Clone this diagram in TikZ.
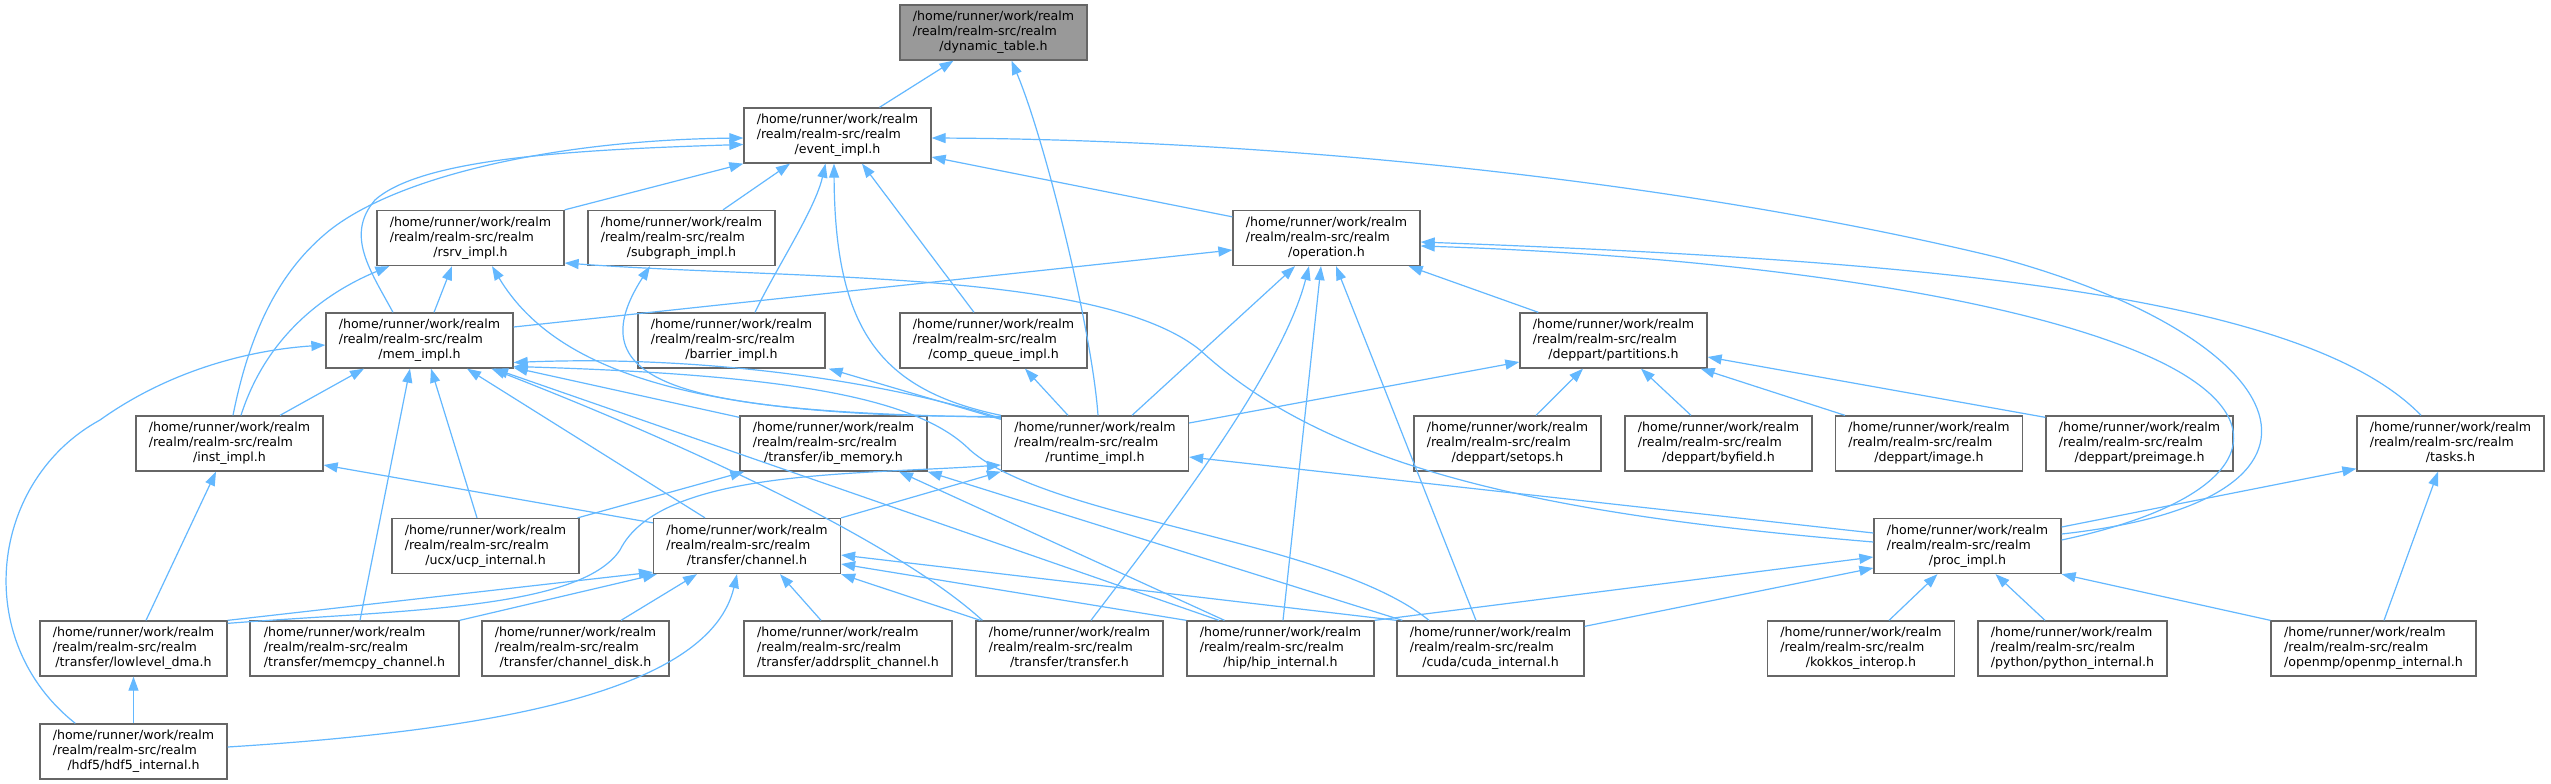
\documentclass[tikz,border=0pt]{standalone}
\usepackage{fontspec}
\setmainfont{DejaVu Sans}
\usetikzlibrary{calc,arrows.meta}
\definecolor{edgeblue}{HTML}{63B8FF}
\definecolor{boxgray}{HTML}{666666}
\definecolor{rootgray}{HTML}{999999}
\newcommand{\lbl}[1]{\begin{tabular}{@{}l@{}}/home/runner/work/realm\\/realm/realm-src/realm\\\multicolumn{1}{@{}c@{}}{#1}\end{tabular}}
\tikzset{
  filebox/.style={draw=boxgray, line width=1.3pt, fill=white, minimum width=187pt, minimum height=55pt,
    inner xsep=10pt, inner ysep=5pt, font=\fontsize{12.6}{15}\selectfont},
  rootbox/.style={filebox, fill=rootgray},
  edge/.style={draw=edgeblue, line width=1.2pt, -{Triangle[length=14pt,width=10pt]}}
}
\begin{document}
\begin{tikzpicture}[x=1pt,y=-1pt]
\fill[white] (0,0) rectangle (2551,784);
\useasboundingbox (0,0) rectangle (2551,784);
% row 0
\node[rootbox] (dyn) at (993.5,32.5) {\lbl{/dynamic\_table.h}};
% row 1
\node[filebox] (event) at (837.5,135.5) {\lbl{/event\_impl.h}};
% row 2
\node[filebox] (rsrv) at (470.5,238) {\lbl{/rsrv\_impl.h}};
\node[filebox] (subgraph) at (681.5,238) {\lbl{/subgraph\_impl.h}};
\node[filebox] (operation) at (1326.5,238) {\lbl{/operation.h}};
% row 3
\node[filebox] (mem) at (419.5,340.5) {\lbl{/mem\_impl.h}};
\node[filebox] (barrier) at (731.5,340.5) {\lbl{/barrier\_impl.h}};
\node[filebox] (comp) at (993.5,340.5) {\lbl{/comp\_queue\_impl.h}};
\node[filebox] (partitions) at (1613.5,340.5) {\lbl{/deppart/partitions.h}};
% row 4
\node[filebox] (inst) at (229.5,443.5) {\lbl{/inst\_impl.h}};
\node[filebox] (ib) at (833.5,443.5) {\lbl{/transfer/ib\_memory.h}};
\node[filebox] (runtime) at (1095,443.5) {\lbl{/runtime\_impl.h}};
\node[filebox] (setops) at (1507.5,443.5) {\lbl{/deppart/setops.h}};
\node[filebox] (byfield) at (1718.5,443.5) {\lbl{/deppart/byfield.h}};
\node[filebox] (image) at (1929,443.5) {\lbl{/deppart/image.h}};
\node[filebox] (preimage) at (2139.5,443.5) {\lbl{/deppart/preimage.h}};
\node[filebox] (tasks) at (2450.5,443.5) {\lbl{/tasks.h}};
% row 5
\node[filebox] (ucp) at (485.5,546) {\lbl{/ucx/ucp\_internal.h}};
\node[filebox] (channel) at (747,546) {\lbl{/transfer/channel.h}};
\node[filebox] (proc) at (1967.5,546) {\lbl{/proc\_impl.h}};
% row 6
\node[filebox] (lowlevel) at (133.5,648.5) {\lbl{/transfer/lowlevel\_dma.h}};
\node[filebox, minimum width=209pt] (memcpy) at (354.5,648.5) {\lbl{/transfer/memcpy\_channel.h}};
\node[filebox] (disk) at (575.5,648.5) {\lbl{/transfer/channel\_disk.h}};
\node[filebox, minimum width=208pt] (addrsplit) at (848,648.5) {\lbl{/transfer/addrsplit\_channel.h}};
\node[filebox] (transfer) at (1069.5,648.5) {\lbl{/transfer/transfer.h}};
\node[filebox] (hip) at (1280.5,648.5) {\lbl{/hip/hip\_internal.h}};
\node[filebox] (cuda) at (1490.5,648.5) {\lbl{/cuda/cuda\_internal.h}};
\node[filebox] (kokkos) at (1861,648.5) {\lbl{/kokkos\_interop.h}};
\node[filebox, minimum width=189pt] (python) at (2072.5,648.5) {\lbl{/python/python\_internal.h}};
\node[filebox, minimum width=205pt] (openmp) at (2373.5,648.5) {\lbl{/openmp/openmp\_internal.h}};
% row 7
\node[filebox] (hdf5) at (133.5,751.5) {\lbl{/hdf5/hdf5\_internal.h}};

% ---- edges: includer -> included (head at included file)
\draw[edge] ($(event.north)+(42,0)$) -- ($(dyn.south)+(-40,0)$);
\draw[edge] ($(runtime.north)+(3,0)$) .. controls (1092,330) and (1045,140) .. ($(dyn.south)+(18,0)$);
\draw[edge] (rsrv.north east) -- (event.south west);
\draw[edge] ($(subgraph.north)+(41.5,0)$) -- ($(event.south)+(-47.5,0)$);
\draw[edge] ($(operation.north west)+(0,7)$) -- ($(event.east)+(0,21.5)$);
\draw[edge] ($(mem.north)+(-26.5,0)$) .. controls (370,270) and (345,235) .. (375,200) .. controls (420,160) and (560,150) .. ($(event.west)+(0,9)$);
\draw[edge] ($(barrier.north)+(23.5,0)$) .. controls (775,270) and (815,210) .. ($(event.south)+(-12,0)$);
\draw[edge] ($(comp.north)+(-19.5,0)$) -- ($(event.south)+(24.5,0)$);
\draw[edge] ($(inst.north)+(3.5,0)$) .. controls (250,330) and (280,270) .. (330,230) .. controls (400,175) and (560,140) .. ($(event.west)+(0,2.5)$);
\draw[edge] (runtime.north west) .. controls (880,390) and (835,330) .. ($(event.south)+(-3.5,0)$);
\draw[edge] ($(proc.east)+(0,-12)$) .. controls (2370,500) and (2300,340) .. (2000,258) .. controls (1700,185) and (1300,140) .. ($(event.east)+(0,2.5)$);
\draw[edge] ($(mem.north)+(14.5,0)$) -- ($(rsrv.south)+(-18.5,0)$);
\draw[edge] ($(inst.north)+(11.5,0)$) .. controls (265,340) and (320,295) .. ($(rsrv.south west)+(13,0)$);
\draw[edge] ($(runtime.north west)+(0,1)$) .. controls (720,418) and (560,380) .. ($(rsrv.south)+(21.5,0)$);
\draw[edge] ($(proc.west)+(0,-4)$) .. controls (1550,515) and (1330,470) .. (1200,350) .. controls (1100,270) and (800,280) .. ($(rsrv.east)+(0,25)$);
\draw[edge] ($(runtime.north west)+(0,2)$) .. controls (700,412) and (570,390) .. ($(subgraph.south)+(-31.5,0)$);
\draw[edge] ($(mem.east)+(0,-13.5)$) -- ($(operation.west)+(0,12)$);
\draw[edge] ($(runtime.north)+(37,0)$) -- ($(operation.south)+(-31.5,0)$);
\draw[edge] ($(partitions.north west)+(19,0)$) -- ($(operation.south east)+(-12,0)$);
\draw[edge] ($(proc.east)+(0,-6)$) .. controls (2250,500) and (2290,420) .. (2150,357) .. controls (2000,290) and (1700,255) .. ($(operation.east)+(0,8)$);
\draw[edge] ($(tasks.north)+(-29.5,0)$) .. controls (2300,290) and (1900,260) .. ($(operation.east)+(0,4)$);
\draw[edge] ($(transfer.north)+(21.5,0)$) .. controls (1140,555) and (1280,380) .. ($(operation.south)+(-17.5,0)$);
\draw[edge] ($(hip.north)+(2.5,0)$) -- ($(operation.south)+(-5.5,0)$);
\draw[edge] ($(cuda.north)+(-14.5,0)$) -- ($(operation.south)+(9.5,0)$);
\draw[edge] ($(inst.north)+(50.5,0)$) -- ($(mem.south)+(-55.5,0)$);
\draw[edge] ($(ib.north west)+(0,2)$) -- ($(mem.south east)+(0,-1)$);
\draw[edge] ($(runtime.north west)+(0,3)$) .. controls (880,380) and (700,355) .. ($(mem.east)+(0,22)$);
\draw[edge] ($(channel.north)+(-42,0)$) -- ($(mem.south)+(47.5,0)$);
\draw[edge] ($(memcpy.north)+(5.5,0)$) -- ($(mem.south)+(-9.5,0)$);
\draw[edge] ($(ucp.north)+(-8.5,0)$) -- ($(mem.south)+(11.5,0)$);
\draw[edge] ($(hdf5.north west)+(36,0)$) .. controls (-30,640) and (-10,480) .. (100,420) .. controls (170,370) and (250,350) .. ($(mem.west)+(0,4.5)$);
\draw[edge] ($(hip.north)+(-61.5,0)$) -- ($(mem.south)+(74.5,0)$);
\draw[edge] ($(cuda.north)+(-61.5,0)$) .. controls (1330,540) and (1050,520) .. (970,450) .. controls (920,400) and (800,375) .. ($(mem.east)+(0,26)$);
\draw[edge] ($(transfer.north west)+(7,0)$) .. controls (900,545) and (700,450) .. ($(mem.south)+(72,0)$);
\draw[edge] ($(runtime.north west)+(0,4)$) -- ($(barrier.south east)+(3,0)$);
\draw[edge] ($(runtime.north)+(-27,0)$) -- ($(comp.south)+(31.5,0)$);
\draw[edge] ($(runtime.east)+(0,-20.5)$) -- ($(partitions.west)+(0,21.5)$);
\draw[edge] ($(setops.north)+(28.5,0)$) -- ($(partitions.south)+(-30.5,0)$);
\draw[edge] ($(byfield.north)+(-27.5,0)$) -- ($(partitions.south)+(27.5,0)$);
\draw[edge] ($(image.north)+(-84,0)$) -- ($(partitions.south east)+(-7,0)$);
\draw[edge] ($(preimage.north west)+(0,2)$) -- ($(partitions.east)+(0,16.5)$);
\draw[edge] ($(channel.north west)+(0,5)$) -- ($(inst.east)+(0,21.5)$);
\draw[edge] ($(lowlevel.north)+(12.5,0)$) -- ($(inst.south)+(-13.5,0)$);
\draw[edge] ($(ucp.north east)+(-2,0)$) -- ($(ib.south west)+(5,0)$);
\draw[edge] ($(hip.north)+(-56,0)$) -- ($(ib.south)+(65.5,0)$);
\draw[edge] ($(cuda.north west)+(6,0)$) -- (ib.south east);
\draw[edge] (channel.north east) -- (runtime.south west);
\draw[edge] ($(lowlevel.north east)+(0,3)$) .. controls (400,610) and (580,610) .. (620,550) .. controls (660,470) and (850,475) .. ($(runtime.west)+(0,21.5)$);
\draw[edge] ($(proc.west)+(0,-13)$) -- ($(runtime.east)+(0,13.5)$);
\draw[edge] ($(proc.east)+(0,-19)$) -- ($(tasks.south west)+(0,-3)$);
\draw[edge] ($(openmp.north)+(10.5,0)$) -- ($(tasks.south)+(-12.5,0)$);
\draw[edge] (lowlevel.north east) -- ($(channel.south west)+(0,-2)$);
\draw[edge] (memcpy.north east) -- ($(channel.south west)+(4,0)$);
\draw[edge] ($(disk.north)+(45.5,0)$) -- ($(channel.south)+(-50,0)$);
\draw[edge] ($(addrsplit.north)+(-27,0)$) -- ($(channel.south)+(33,0)$);
\draw[edge] ($(transfer.north west)+(5,0)$) -- (channel.south east);
\draw[edge] (hip.north west) -- ($(channel.east)+(0,18)$);
\draw[edge] (cuda.north west) -- ($(channel.east)+(0,9)$);
\draw[edge] ($(hdf5.east)+(0,-4.5)$) .. controls (500,730) and (710,690) .. ($(channel.south)+(-10,0)$);
\draw[edge] (hip.north east) -- ($(proc.west)+(0,11)$);
\draw[edge] ($(cuda.north east)+(0,6)$) -- ($(proc.west)+(0,22)$);
\draw[edge] ($(kokkos.north)+(28,0)$) -- ($(proc.south)+(-30,0)$);
\draw[edge] ($(python.north)+(-27.5,0)$) -- ($(proc.south)+(28,0)$);
\draw[edge] (openmp.north west) -- (proc.south east);
\draw[edge] (hdf5.north) -- (lowlevel.south);
\end{tikzpicture}
\end{document}
